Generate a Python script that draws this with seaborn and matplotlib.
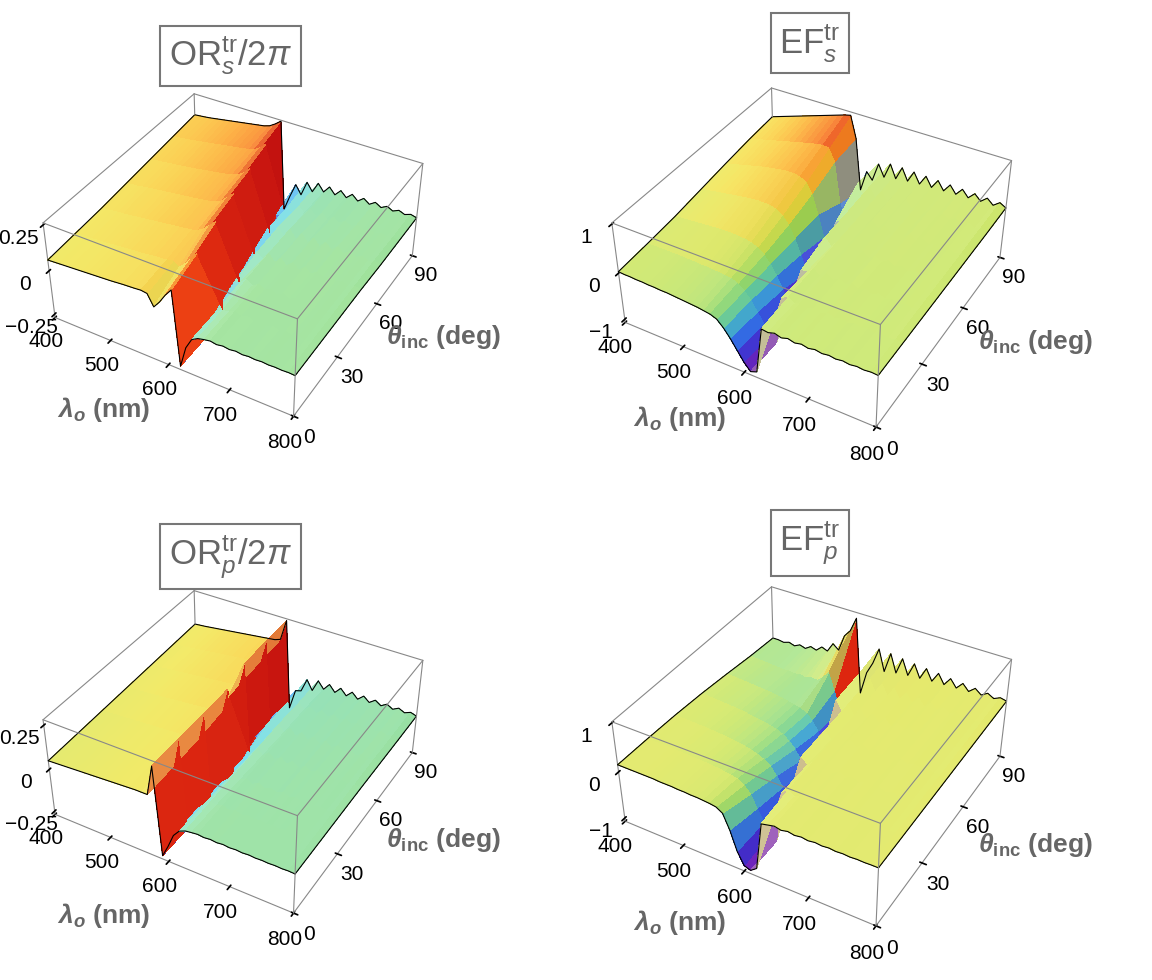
import numpy as np
import seaborn as sns
import matplotlib.pyplot as plt
from matplotlib.colors import LightSource, Normalize, LinearSegmentedColormap

# wavelength (nm) and incidence angle (deg) grid
lam = list(range(400, 801, 10))
theta = [0, 15, 30, 45, 60, 75, 90]

# OR_s / 2pi, one row per angle
ors = [
    [0.06,0.062,0.064,0.066,0.068,0.07,0.072,0.074,0.076,0.078,
     0.08,0.082,0.085,0.088,0.09,0.092,0.095,0.09,0.03,0.07,
     0.12,0.16,-0.25,-0.13,-0.07,-0.05,-0.042,-0.036,-0.042,-0.036,
     -0.041,-0.036,-0.041,-0.037,-0.04,-0.037,-0.04,-0.038,-0.04,-0.038,-0.04],
    [0.07,0.072,0.074,0.076,0.078,0.08,0.083,0.086,0.089,0.092,
     0.095,0.098,0.10,0.104,0.108,0.11,0.115,0.12,0.10,0.13,
     0.17,0.21,-0.25,-0.13,-0.07,-0.05,-0.046,-0.03,-0.046,-0.031,
     -0.045,-0.032,-0.045,-0.032,-0.044,-0.033,-0.043,-0.034,-0.042,-0.035,-0.04],
    [0.08,0.083,0.086,0.09,0.093,0.096,0.10,0.104,0.108,0.112,
     0.116,0.12,0.124,0.128,0.132,0.136,0.14,0.15,0.17,0.20,
     0.23,-0.25,-0.13,-0.07,-0.055,-0.026,-0.05,-0.027,-0.048,-0.028,
     -0.047,-0.029,-0.046,-0.03,-0.045,-0.031,-0.044,-0.032,-0.043,-0.034,-0.04],
    [0.095,0.098,0.10,0.105,0.11,0.114,0.118,0.122,0.126,0.13,
     0.134,0.138,0.142,0.146,0.15,0.155,0.165,0.18,0.21,0.24,
     -0.25,-0.14,-0.08,-0.04,-0.065,-0.022,-0.06,-0.024,-0.056,-0.025,
     -0.053,-0.027,-0.05,-0.028,-0.048,-0.03,-0.046,-0.031,-0.045,-0.033,-0.04],
    [0.11,0.113,0.116,0.12,0.124,0.128,0.132,0.136,0.14,0.145,
     0.15,0.155,0.16,0.165,0.17,0.18,0.19,0.21,0.245,-0.25,
     -0.15,-0.07,-0.1,-0.03,-0.075,-0.018,-0.068,-0.02,-0.062,-0.022,
     -0.058,-0.024,-0.055,-0.026,-0.052,-0.028,-0.05,-0.03,-0.048,-0.032,-0.045],
    [0.125,0.128,0.132,0.136,0.14,0.145,0.15,0.155,0.16,0.165,
     0.17,0.175,0.18,0.185,0.19,0.2,0.22,0.25,-0.25,-0.14,
     -0.13,-0.07,-0.1,-0.04,-0.07,-0.035,-0.065,-0.035,-0.06,-0.035,
     -0.058,-0.035,-0.055,-0.035,-0.052,-0.036,-0.05,-0.037,-0.048,-0.038,-0.045],
    [0.14,0.143,0.146,0.15,0.155,0.16,0.165,0.17,0.175,0.18,
     0.185,0.19,0.195,0.2,0.21,0.23,0.255,-0.25,-0.16,-0.08,
     -0.13,-0.045,-0.09,-0.03,-0.07,-0.03,-0.065,-0.03,-0.06,-0.03,
     -0.058,-0.032,-0.055,-0.033,-0.052,-0.034,-0.05,-0.035,-0.048,-0.036,-0.045],
]

# EF_s
efs = [
    [0.03,0.02,0.02,0.01,0.01,0.0,0.0,-0.01,-0.01,-0.02,
     -0.03,-0.04,-0.05,-0.06,-0.08,-0.1,-0.15,-0.28,-0.45,-0.65,
     -0.85,-1.0,-0.95,0.02,0.0,0.04,0.0,0.04,0.005,0.035,
     0.005,0.035,0.01,0.03,0.01,0.03,0.01,0.03,0.015,0.03,0.02],
    [0.07,0.07,0.07,0.07,0.07,0.07,0.07,0.06,0.06,0.05,
     0.05,0.04,0.03,0.02,0.0,-0.05,-0.15,-0.3,-0.5,-0.7,
     -0.88,-1.0,0.0,0.06,-0.02,0.06,-0.01,0.05,0.0,0.05,
     0.0,0.05,0.0,0.045,0.005,0.045,0.005,0.04,0.01,0.04,0.02],
    [0.12,0.13,0.14,0.15,0.16,0.17,0.18,0.19,0.2,0.2,
     0.2,0.19,0.18,0.15,0.1,0.0,-0.15,-0.35,-0.6,-0.85,
     -1.0,-0.05,-0.03,0.08,-0.02,0.08,-0.01,0.07,-0.01,0.07,
     0.0,0.06,0.0,0.06,0.0,0.055,0.005,0.05,0.01,0.05,0.02],
    [0.2,0.22,0.24,0.26,0.28,0.3,0.32,0.34,0.36,0.37,
     0.38,0.38,0.37,0.33,0.25,0.1,-0.15,-0.45,-0.8,-1.0,
     -0.1,0.1,-0.05,0.1,-0.03,0.09,-0.02,0.09,-0.01,0.08,
     0.0,0.08,0.0,0.07,0.0,0.065,0.005,0.06,0.01,0.055,0.02],
    [0.28,0.3,0.33,0.36,0.39,0.42,0.45,0.48,0.5,0.52,
     0.54,0.55,0.55,0.52,0.45,0.25,-0.15,-0.6,-0.95,-0.2,
     -0.08,0.12,-0.06,0.12,-0.04,0.11,-0.03,0.1,-0.02,0.1,
     -0.01,0.09,0.0,0.085,0.0,0.08,0.005,0.07,0.01,0.065,0.02],
    [0.35,0.38,0.41,0.44,0.47,0.5,0.53,0.56,0.59,0.62,
     0.65,0.68,0.7,0.72,0.7,0.45,-0.4,-0.8,-0.35,0.15,
     -0.1,0.16,-0.07,0.15,-0.05,0.14,-0.04,0.13,-0.03,0.12,
     -0.02,0.11,-0.01,0.1,0.0,0.09,0.0,0.085,0.005,0.08,0.02],
    [0.4,0.44,0.48,0.52,0.56,0.6,0.64,0.68,0.72,0.76,
     0.8,0.84,0.88,0.92,0.95,0.5,-0.6,-0.15,-0.3,0.1,
     -0.15,0.18,-0.1,0.18,-0.07,0.17,-0.05,0.16,-0.04,0.15,
     -0.03,0.14,-0.02,0.13,-0.01,0.12,0.0,0.11,0.0,0.1,0.03],
]

# OR_p / 2pi
orp = [
    [0.05,0.052,0.054,0.056,0.058,0.06,0.062,0.064,0.066,0.068,
     0.07,0.072,0.074,0.076,0.078,0.08,0.08,0.08,0.25,-0.25,
     -0.18,-0.1,-0.06,-0.045,-0.04,-0.036,-0.04,-0.036,-0.04,-0.036,
     -0.04,-0.037,-0.04,-0.037,-0.04,-0.038,-0.04,-0.038,-0.04,-0.038,-0.04],
    [0.055,0.057,0.059,0.061,0.063,0.065,0.067,0.069,0.071,0.073,
     0.075,0.077,0.079,0.08,0.082,0.084,0.085,0.09,0.25,-0.25,
     -0.18,-0.1,-0.065,-0.04,-0.045,-0.033,-0.045,-0.033,-0.044,-0.034,
     -0.044,-0.034,-0.043,-0.035,-0.043,-0.035,-0.042,-0.036,-0.042,-0.036,-0.04],
    [0.06,0.062,0.064,0.066,0.068,0.07,0.072,0.074,0.076,0.078,
     0.08,0.082,0.084,0.086,0.088,0.09,0.092,0.1,0.25,-0.25,
     -0.17,-0.1,-0.07,-0.035,-0.05,-0.03,-0.05,-0.03,-0.048,-0.031,
     -0.047,-0.032,-0.046,-0.033,-0.045,-0.034,-0.044,-0.035,-0.043,-0.036,-0.04],
    [0.065,0.068,0.07,0.072,0.075,0.078,0.08,0.083,0.086,0.089,
     0.092,0.095,0.098,0.101,0.104,0.107,0.11,0.12,0.255,-0.25,
     -0.16,-0.1,-0.075,-0.03,-0.055,-0.025,-0.055,-0.026,-0.053,-0.027,
     -0.052,-0.028,-0.05,-0.03,-0.048,-0.031,-0.046,-0.032,-0.045,-0.034,-0.04],
    [0.07,0.073,0.076,0.08,0.083,0.086,0.09,0.093,0.096,0.1,
     0.103,0.106,0.11,0.113,0.116,0.12,0.13,0.26,-0.25,-0.15,
     -0.1,-0.05,-0.08,-0.025,-0.06,-0.022,-0.058,-0.024,-0.056,-0.025,
     -0.054,-0.026,-0.052,-0.028,-0.05,-0.03,-0.048,-0.031,-0.046,-0.033,-0.042],
    [0.075,0.078,0.08,0.084,0.088,0.092,0.096,0.1,0.104,0.108,
     0.112,0.116,0.12,0.124,0.128,0.13,0.14,0.265,-0.25,-0.14,
     -0.11,-0.05,-0.085,-0.03,-0.06,-0.03,-0.058,-0.03,-0.056,-0.031,
     -0.054,-0.032,-0.052,-0.033,-0.05,-0.034,-0.048,-0.035,-0.046,-0.036,-0.044],
    [0.08,0.083,0.086,0.09,0.094,0.098,0.102,0.106,0.11,0.114,
     0.118,0.122,0.126,0.13,0.134,0.138,0.15,0.27,-0.25,-0.13,
     -0.12,-0.04,-0.095,-0.025,-0.065,-0.025,-0.062,-0.026,-0.06,-0.027,
     -0.058,-0.028,-0.055,-0.03,-0.052,-0.031,-0.05,-0.032,-0.048,-0.034,-0.045],
]

# EF_p
efp = [
    [0.15,0.15,0.15,0.15,0.15,0.15,0.15,0.14,0.14,0.14,
     0.13,0.13,0.12,0.12,0.11,0.1,0.08,0.0,-0.3,-0.7,
     -0.95,-1.0,-0.9,0.1,0.13,0.16,0.13,0.16,0.135,0.155,
     0.135,0.155,0.14,0.155,0.14,0.15,0.14,0.15,0.145,0.15,0.15],
    [0.14,0.14,0.14,0.14,0.14,0.14,0.13,0.13,0.12,0.12,
     0.11,0.1,0.09,0.07,0.05,0.02,-0.05,-0.2,-0.45,-0.7,
     -0.9,-1.0,0.08,0.18,0.1,0.18,0.11,0.17,0.12,0.17,
     0.12,0.165,0.125,0.16,0.13,0.16,0.13,0.155,0.135,0.155,0.15],
    [0.12,0.12,0.11,0.11,0.1,0.1,0.09,0.08,0.07,0.06,
     0.04,0.02,0.0,-0.03,-0.07,-0.13,-0.22,-0.38,-0.58,-0.8,
     -1.0,0.2,0.08,0.2,0.09,0.19,0.1,0.19,0.11,0.18,
     0.11,0.18,0.12,0.17,0.12,0.17,0.13,0.165,0.135,0.16,0.15],
    [0.08,0.08,0.07,0.06,0.05,0.04,0.03,0.02,0.0,-0.02,
     -0.04,-0.06,-0.09,-0.12,-0.18,-0.27,-0.4,-0.6,-0.82,-1.0,
     0.05,0.22,0.06,0.22,0.08,0.21,0.09,0.2,0.1,0.2,
     0.11,0.19,0.11,0.18,0.12,0.18,0.12,0.17,0.13,0.165,0.15],
    [0.02,0.02,0.01,0.0,-0.01,-0.02,-0.03,-0.04,-0.06,-0.08,
     -0.1,-0.12,-0.15,-0.18,-0.25,-0.35,-0.55,-0.8,-1.0,0.25,
     0.02,0.25,0.05,0.24,0.07,0.23,0.08,0.22,0.09,0.21,
     0.1,0.2,0.11,0.19,0.12,0.18,0.12,0.17,0.13,0.165,0.15],
    [-0.05,-0.06,-0.07,-0.08,-0.09,-0.1,-0.11,-0.1,-0.12,-0.1,
     -0.13,-0.08,-0.1,0.0,0.15,-0.2,-0.6,-0.95,-0.3,0.3,
     0.0,0.3,0.04,0.28,0.06,0.27,0.07,0.26,0.08,0.24,
     0.09,0.22,0.1,0.21,0.11,0.2,0.12,0.18,0.13,0.17,0.15],
    [-0.1,-0.1,-0.12,-0.08,-0.12,-0.06,-0.1,-0.02,-0.06,0.05,
     0.0,0.2,0.1,0.45,0.6,0.9,-0.7,-0.2,0.05,0.4,
     -0.05,0.38,0.0,0.35,0.03,0.32,0.05,0.3,0.07,0.28,
     0.08,0.25,0.09,0.23,0.1,0.21,0.11,0.19,0.12,0.18,0.15],
]

titles = [r'OR$_{s}^{\mathrm{tr}}$/2$\pi$', r'EF$_{s}^{\mathrm{tr}}$',
          r'OR$_{p}^{\mathrm{tr}}$/2$\pi$', r'EF$_{p}^{\mathrm{tr}}$']
zlims = [(-0.27, 0.26), (-1.07, 1.02), (-0.27, 0.28), (-1.07, 1.02)]
zticks = [[-0.25, 0, 0.25], [-1, 0, 1], [-0.25, 0, 0.25], [-1, 0, 1]]
ztlabels = [['\u22120.25', '0', '0.25'], ['\u22121', '0', '1'],
            ['\u22120.25', '0', '0.25'], ['\u22121', '0', '1']]

sns.set_theme(style='white')
plt.rcParams['font.family'] = ['Liberation Sans', 'DejaVu Sans']
plt.rcParams['mathtext.fontset'] = 'custom'
plt.rcParams['mathtext.rm'] = 'Liberation Sans'
plt.rcParams['mathtext.it'] = 'Liberation Sans:italic'
plt.rcParams['mathtext.bf'] = 'Liberation Sans:bold'
plt.rcParams['mathtext.bfit'] = 'Liberation Sans:italic:bold'

stops = [0.0, 0.07, 0.16, 0.27, 0.35, 0.41, 0.46, 0.53, 0.64, 0.75, 0.85, 0.93, 1.0]
cols = ['#5a1890', '#7428c8', '#4a50e8', '#4aa0f0', '#5ccce0', '#88d898', '#98dc84',
        '#c4e264', '#ece054', '#f8c444', '#fc9434', '#f05a28', '#d82828']
pal = sns.blend_palette(cols, n_colors=len(cols))
cmap = LinearSegmentedColormap.from_list('rb', list(zip(stops, pal)))

fig = plt.figure(figsize=(11.52, 9.8), dpi=100)
rects = [[-0.058, 0.498, 0.52, 0.50], [0.445, 0.497, 0.52, 0.50],
         [-0.058, -0.009, 0.52, 0.50], [0.445, -0.012, 0.52, 0.50]]
zooms = [0.79, 0.83, 0.79, 0.83]
title_xy = [(0.2, 0.943), (0.703, 0.956), (0.2, 0.432), (0.703, 0.446)]
lab_xy = [(0.09, 0.582, 0.385, 0.656), (0.590, 0.573, 0.899, 0.651),
          (0.09, 0.066, 0.385, 0.143), (0.590, 0.059, 0.899, 0.138)]

X, Y = np.meshgrid(lam, theta)
ls = LightSource(azdeg=250, altdeg=35)

for k, data in enumerate([ors, efs, orp, efp]):
    Z = np.array(data)
    zlo, zhi = zlims[k]
    ax = fig.add_axes(rects[k], projection='3d', computed_zorder=False)
    ax.set_proj_type('persp', focal_length=0.45)
    ax.view_init(elev=38, azim=-60)
    ax.set_box_aspect((1, 1, 0.44), zoom=zooms[k])

    norm = Normalize(zlo, zhi)
    rgb = cmap(norm(Z))[..., :3]
    zb = (Z - zlo) / (zhi - zlo) * 0.44
    rgb = ls.shade_rgb(rgb, zb, blend_mode='soft', dx=10 / 400, dy=15 / 90, fraction=0.7)
    # face colour: mean of its corners, top corner for the steep walls
    corners = np.stack([rgb[:-1, :-1], rgb[1:, :-1], rgb[:-1, 1:], rgb[1:, 1:]])
    zc = np.stack([Z[:-1, :-1], Z[1:, :-1], Z[:-1, 1:], Z[1:, 1:]])
    top = np.take_along_axis(corners, zc.argmax(0)[None, ..., None], 0)[0]
    wall = (zc.max(0) - zc.min(0)) > 0.6 * (zhi - zlo)
    fc = rgb.copy()
    fc[:-1, :-1] = np.where(wall[..., None], top, corners.mean(0))
    ax.plot_surface(X, Y, Z, facecolors=fc, rstride=1, cstride=1, shade=False,
                    linewidth=0, antialiased=False, zorder=1)

    # surface outline
    ax.plot(lam, [0] * len(lam), Z[0], color='black', lw=0.8, zorder=2)
    ax.plot(lam, [90] * len(lam), Z[-1], color='black', lw=0.8, zorder=2)
    ax.plot([400] * len(theta), theta, Z[:, 0], color='black', lw=0.8, zorder=2)
    ax.plot([800] * len(theta), theta, Z[:, -1], color='black', lw=0.8, zorder=2)

    # bounding box edges
    edge = dict(color='#888888', lw=0.8, zorder=3)
    ax.plot([400, 800], [0, 0], [zhi, zhi], **edge)
    ax.plot([400, 800], [90, 90], [zhi, zhi], **edge)
    ax.plot([400, 400], [0, 90], [zhi, zhi], **edge)
    ax.plot([800, 800], [0, 90], [zhi, zhi], **edge)
    ax.plot([800, 800], [0, 0], [zlo, zhi], **edge)
    ax.plot([800, 800], [90, 90], [zlo, zhi], **edge)
    ax.plot([400, 400], [90, 90], [Z[-1, 0], zhi], **edge)

    ax.set_xlim(400, 800)
    ax.set_ylim(0, 90)
    ax.set_zlim(zlo, zhi)
    ax.set_xticks([400, 500, 600, 700, 800])
    ax.set_yticks([0, 30, 60, 90])
    ax.set_zticks(zticks[k])
    ax.set_zticklabels(ztlabels[k])
    ax.zaxis.set_ticks_position('lower')
    ax.tick_params(labelsize=15, colors='black', pad=3)
    ax.grid(False)
    for a in (ax.xaxis, ax.yaxis, ax.zaxis):
        a.set_pane_color((1, 1, 1, 0))
        a.pane.set_edgecolor('none')
        a.line.set_color('#888888')
        a.line.set_linewidth(0.8)

    fig.text(title_xy[k][0], title_xy[k][1], titles[k], fontsize=25, color='#666666',
             ha='center', va='center',
             bbox=dict(boxstyle='square,pad=0.25', fc='white', ec='#777777', lw=1.5))
    lx, ly, tx, ty = lab_xy[k]
    fig.text(lx, ly, r'$\mathbfit{\lambda}_{\mathbfit{o}}$ (nm)', fontsize=19,
             fontweight='bold', color='#666666', ha='center', va='center')
    fig.text(tx, ty, r'$\mathbfit{\theta}_{\mathbf{inc}}$ (deg)', fontsize=19,
             fontweight='bold', color='#666666', ha='center', va='center')

fig.savefig('out.png', dpi=100)
